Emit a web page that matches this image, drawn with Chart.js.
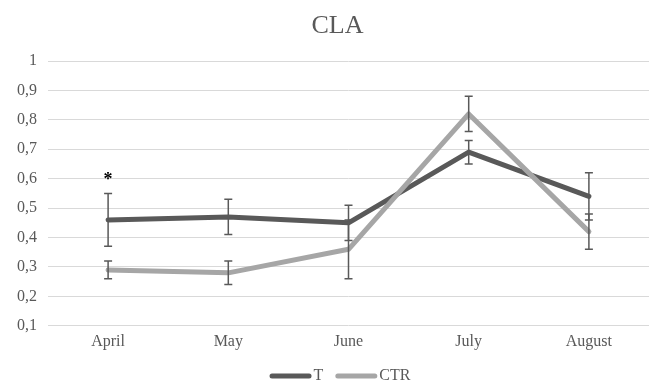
<!DOCTYPE html>
<html>
<head>
<meta charset="utf-8">
<script src="https://cdn.jsdelivr.net/npm/chart.js@4/dist/chart.umd.min.js"></script>
<style>
  html, body { margin: 0; padding: 0; background: #ffffff; }
  #wrap { width: 649px; height: 380px; position: relative; }
</style>
</head>
<body>
<div id="wrap"><canvas id="c" width="649" height="380"></canvas></div>
<script>
const categories = ['April', 'May', 'June', 'July', 'August'];
const tValues   = [0.46, 0.47, 0.45, 0.69, 0.54];
const tErrors   = [0.09, 0.06, 0.06, 0.04, 0.08];
const ctrValues = [0.29, 0.28, 0.36, 0.82, 0.42];
const ctrErrors = [0.03, 0.04, 0.10, 0.06, 0.06];
const sigMarks  = ['*', '', '', '', ''];
const yTicks    = [0.1, 0.2, 0.3, 0.4, 0.5, 0.6, 0.7, 0.8, 0.9, 1];
const titleText = 'CLA';

const SERIF = "'Liberation Serif', 'Times New Roman', serif";
const TEXT = '#595959';

const errorBarPlugin = {
  id: 'errorBars',
  afterDatasetsDraw(chart) {
    const ctx = chart.ctx;
    const x = chart.scales.x, y = chart.scales.y;
    ctx.save();
    ctx.strokeStyle = '#595959';
    ctx.lineWidth = 1.5;
    chart.data.datasets.forEach(ds => {
      ds.values.forEach((v, i) => {
        const e = ds.errors[i];
        const px = x.getPixelForValue(i);
        const top = y.getPixelForValue(v + e);
        const bot = y.getPixelForValue(v - e);
        ctx.beginPath();
        ctx.moveTo(px, top); ctx.lineTo(px, bot);
        ctx.moveTo(px - 4, top); ctx.lineTo(px + 4, top);
        ctx.moveTo(px - 4, bot); ctx.lineTo(px + 4, bot);
        ctx.stroke();
      });
    });
    ctx.fillStyle = '#000000';
    ctx.font = 'bold 18px ' + SERIF;
    ctx.textAlign = 'center';
    ctx.textBaseline = 'middle';
    sigMarks.forEach((m, i) => {
      if (!m) return;
      const px = x.getPixelForValue(i);
      const top = y.getPixelForValue(tValues[i] + tErrors[i]);
      ctx.fillText(m, px, top - 13);
    });
    ctx.restore();
  }
};

// Title and legend drawn in the positions the reference uses (offset toward plot centre)
const titleLegendPlugin = {
  id: 'titleLegend',
  afterDraw(chart) {
    const ctx = chart.ctx;
    ctx.save();
    ctx.fillStyle = TEXT;
    ctx.font = '26px ' + SERIF;
    ctx.textAlign = 'center';
    ctx.textBaseline = 'alphabetic';
    ctx.fillText(titleText, 337.5, 33);

    ctx.font = '16px ' + SERIF;
    ctx.textAlign = 'left';
    const sw = 42, gap = 2, spacing = 12;
    const items = chart.data.datasets.map(ds => ({ text: ds.label, color: ds.borderColor, w: ctx.measureText(ds.label).width }));
    const total = items.reduce((s, it) => s + sw + gap + it.w, 0) + spacing * (items.length - 1);
    let xx = 340 - total / 2;
    items.forEach(it => {
      ctx.strokeStyle = it.color;
      ctx.lineWidth = 5;
      ctx.lineCap = 'round';
      ctx.beginPath();
      ctx.moveTo(xx + 2.5, 376); ctx.lineTo(xx + sw - 2.5, 376);
      ctx.stroke();
      ctx.fillStyle = TEXT;
      ctx.fillText(it.text, xx + sw + gap, 380);
      xx += sw + gap + it.w + spacing;
    });
    ctx.restore();
  }
};

new Chart(document.getElementById('c'), {
  type: 'line',
  data: {
    labels: categories,
    datasets: [
      {
        label: 'T', data: tValues, values: tValues, errors: tErrors,
        borderColor: '#595959', backgroundColor: '#595959',
        borderWidth: 5, pointRadius: 0, tension: 0, order: 1,
        borderCapStyle: 'round', borderJoinStyle: 'round'
      },
      {
        label: 'CTR', data: ctrValues, values: ctrValues, errors: ctrErrors,
        borderColor: '#a6a6a6', backgroundColor: '#a6a6a6',
        borderWidth: 5, pointRadius: 0, tension: 0, order: 0,
        borderCapStyle: 'round', borderJoinStyle: 'round'
      }
    ]
  },
  options: {
    responsive: false,
    animation: false,
    layout: { padding: { left: 0, right: 0, top: 61, bottom: 23 } },
    plugins: {
      tooltip: { enabled: false },
      title: { display: false },
      legend: { display: false }
    },
    scales: {
      x: {
        offset: true,
        grid: { display: false, drawTicks: false },
        border: { display: false },
        ticks: { color: TEXT, font: { family: SERIF, size: 16 }, padding: 6, maxRotation: 0 }
      },
      y: {
        min: 0.1, max: 1,
        afterFit(scale) { scale.width = 48; },
        afterBuildTicks(scale) { scale.ticks = yTicks.map(v => ({ value: v })); },
        grid: { color: '#d9d9d9', lineWidth: 1, drawTicks: false },
        border: { display: false },
        ticks: {
          color: TEXT, font: { family: SERIF, size: 16 }, padding: 11,
          callback: v => String(Math.round(v * 10) / 10).replace('.', ',')
        }
      }
    }
  },
  plugins: [errorBarPlugin, titleLegendPlugin]
});
</script>
</body>
</html>
